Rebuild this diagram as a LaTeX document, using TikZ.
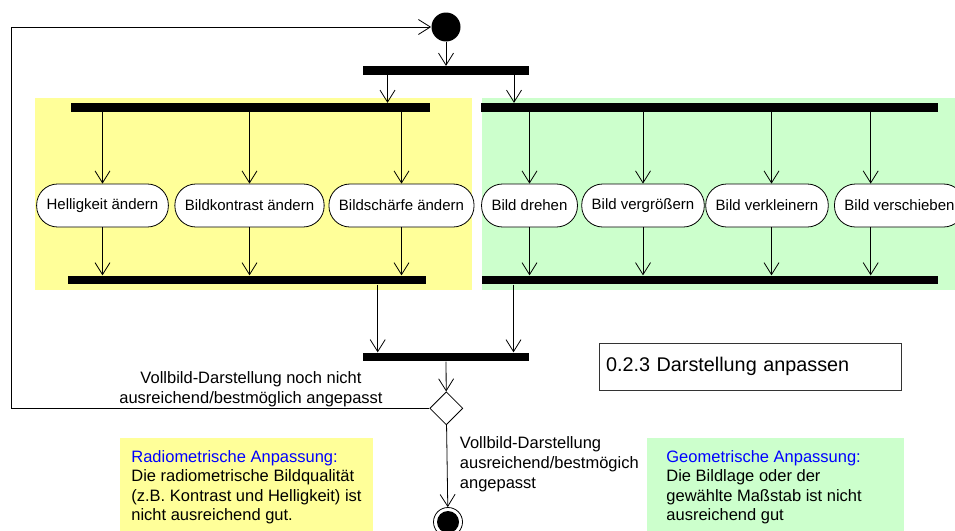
\documentclass[tikz,border=0pt]{standalone}
\usepackage{fontspec}
\setmainfont{Liberation Sans}
\usetikzlibrary{arrows.meta,shapes.geometric}
\definecolor{gelb}{HTML}{FFFF99}
\definecolor{gruen}{HTML}{CCFFCC}
\begin{document}
\begin{tikzpicture}[x=1pt,y=-1pt,line width=0.8pt,
  font=\fontsize{16.5}{20}\selectfont,
  balken/.style={fill=black,inner sep=0pt,minimum height=8.5pt},
  aktion/.style={draw,fill=white,rounded corners=21pt,minimum height=43pt,
    inner xsep=10pt,font=\fontsize{15}{18}\selectfont},
  pfeil/.style={-{Straight Barb[length=12pt,width=15pt]}},
  notiz/.style={align=left,anchor=north west,inner sep=0pt,
    font=\fontsize{16.5}{19.5}\selectfont}]
\useasboundingbox (0,0) rectangle (955,530);
% Bereiche fuer radiometrisch / geometrisch
\fill[gelb] (35,97.5) rectangle (471.5,290);
\fill[gruen] (482,97.5) rectangle (960,290);
% x-Lagen der Kanten
\coordinate (links) at (11,0);
\coordinate (ya) at (387.5,0);
\coordinate (ga) at (514,0);
\coordinate (yb) at (377.7,0);
\coordinate (gb) at (513.5,0);
\coordinate (xverkl) at (771.5,0);
\coordinate (xversch) at (870.7,0);
% Start und Gabelungen
\node[circle,fill=black,minimum size=29pt,inner sep=0pt] (start) at (446,27) {};
\node[balken,minimum width=166pt] (gabel) at (446,70.5) {};
\node[balken,minimum width=359pt] (ygabel) at (250.5,107.5) {};
\node[balken,minimum width=457pt] (ggabel) at (709.5,107.5) {};
% Aktionen
\node[aktion] (hell) at (102.5,205.5) {Helligkeit ändern};
\node[aktion] (kontr) at (249.5,205.5) {Bildkontrast ändern};
\node[aktion] (schaerfe) at (401.5,205.5) {Bildschärfe ändern};
\node[aktion] (drehen) at (529.5,205.5) {Bild drehen};
\node[aktion] (vergr) at (643,205.5) {Bild vergrößern};
\node[aktion] (verkl) at (767,205.5) {Bild verkleinern};
\node[aktion] (versch) at (899.5,205.5) {Bild verschieben};
% Zusammenfuehrungen
\node[balken,minimum width=358pt] (yjoin) at (247,280) {};
\node[balken,minimum width=456pt] (gjoin) at (710,280) {};
\node[balken,minimum width=166pt] (sync) at (446,357) {};
\node[draw,fill=white,diamond,aspect=1,minimum size=33pt,inner sep=0pt] (raute) at (446.3,408.3) {};
\node[draw,circle,minimum size=29pt,inner sep=0pt,
  path picture={\fill (path picture bounding box.center) circle (11pt);}] (ende) at (448,522) {};
% Kanten
\draw[pfeil] (start) -- (gabel);
\draw[pfeil] (gabel.south -| ya) -- (ya |- ygabel.north);
\draw[pfeil] (gabel.south -| ga) -- (ga |- ggabel.north);
\foreach \a in {hell,kontr,schaerfe} {
  \draw[pfeil] (ygabel.south -| \a) -- (\a);
  \draw[pfeil] (\a) -- (\a |- yjoin.north);
}
\foreach \a in {drehen,vergr} {
  \draw[pfeil] (ggabel.south -| \a) -- (\a);
  \draw[pfeil] (\a) -- (\a |- gjoin.north);
}
\foreach \a/\x in {verkl/xverkl,versch/xversch} {
  \draw[pfeil] (ggabel.south -| \x) -- (\x |- \a.north);
  \draw[pfeil] (\x |- \a.south) -- (\x |- gjoin.north);
}
\draw[pfeil] (yjoin.south -| yb) -- (yb |- sync.north);
\draw[pfeil] (gjoin.south -| gb) -- (gb |- sync.north);
\draw[pfeil] (sync) -- (raute);
\draw[pfeil] (raute) -- (ende);
\draw[pfeil] (raute.west) -- (raute.west -| links) |- (start);
% Beschriftungen
\node[align=center] (nichtok) at (251,389) {Vollbild-Darstellung noch nicht\\ausreichend/bestmöglich angepasst};
\node[align=left,anchor=west,inner sep=0pt] (ok) at (459.5,464) {Vollbild-Darstellung\\ausreichend/bestmögich\\angepasst};
\node[draw=black!80,line width=1pt,text width=288pt,inner xsep=7pt,minimum height=47pt,
  align=left,font=\fontsize{19.8}{24}\selectfont] (titel) at (750,366.5) {0.2.3 Darstellung anpassen};
% Notizen
\fill[gelb] (120,437.7) rectangle (372.7,540);
\node[notiz] (radio) at (131,449.7) {\textcolor{blue}{Radiometrische Anpassung:}\\Die radiometrische Bildqualität\\(z.B. Kontrast und Helligkeit) ist\\nicht ausreichend gut.};
\fill[gruen] (646.7,437.7) rectangle (904,540);
\node[notiz] (geo) at (666,449.7) {\textcolor{blue}{Geometrische Anpassung:}\\Die Bildlage oder der\\gewählte Maßstab ist nicht\\ausreichend gut};
\end{tikzpicture}
\end{document}
